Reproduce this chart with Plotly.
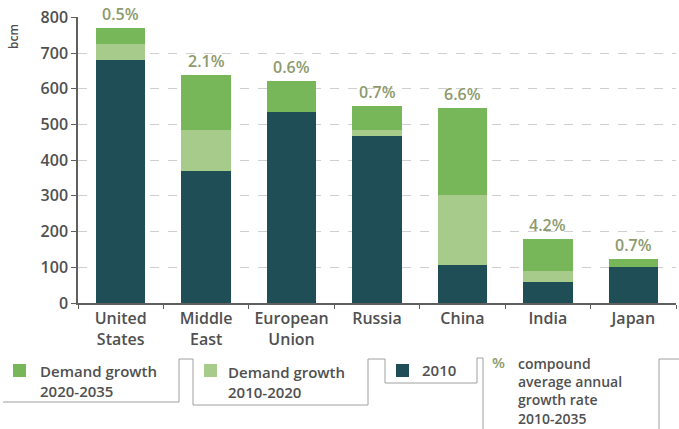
import plotly.graph_objects as go

# Natural gas demand by region (bcm)
regions = ["United<br>States", "Middle<br>East", "European<br>Union", "Russia", "China", "India", "Japan"]
base_2010 = [680, 370, 535, 467, 106, 59, 100]
growth_2010_2020 = [45, 115, 0, 17, 196, 31, 0]
growth_2020_2035 = [45, 153, 86, 67, 243, 89, 23]
cagr_labels = ["0.5%", "2.1%", "0.6%", "0.7%", "6.6%", "4.2%", "0.7%"]
y_ticks = [0, 100, 200, 300, 400, 500, 600, 700, 800]

DARK = "#1f4e56"
LIGHT = "#a6cb8b"
GREEN = "#77b75a"
PCT = "#8d9a6c"
TXT = "#505050"
FONT = "Open Sans"

W, H = 679, 429
L, R, T, B = 78, 3, 17, 126

fig = go.Figure()
for name, vals, col in [("2010", base_2010, DARK),
                        ("Demand growth 2010-2020", growth_2010_2020, LIGHT),
                        ("Demand growth 2020-2035", growth_2020_2035, GREEN)]:
    fig.add_trace(go.Bar(x=regions, y=vals, name=name, marker_color=col,
                         marker_line_width=0, width=0.58, showlegend=False))

totals = [a + b + c for a, b, c in zip(base_2010, growth_2010_2020, growth_2020_2035)]
for reg, tot, lab in zip(regions, totals, cagr_labels):
    fig.add_annotation(x=reg, y=tot, text=lab, showarrow=False, yanchor="bottom",
                       yshift=1, font=dict(family=FONT, size=16, color=PCT, weight=600))

# pixel -> paper helpers for the hand-laid legend
pw, ph = W - L - R, H - T - B
def px(x):
    return (x - L) / pw
def py(y):
    return (H - B - y) / ph

segs = [(3, 402, 179, 402), (179, 402, 179, 359), (179, 359, 193, 359),
        (193, 359, 193, 405), (193, 405, 368, 405), (368, 405, 368, 359),
        (368, 359, 385, 359), (385, 359, 385, 383), (385, 383, 477, 383),
        (477, 383, 477, 358), (477, 358, 483, 358), (483, 358, 483, 429),
        (659, 429, 659, 359), (659, 359, 679, 359)]
shapes = []
for x0, y0, x1, y1 in segs:
    shapes.append(dict(type="line", xref="paper", yref="paper",
                       x0=px(x0), y0=py(y0), x1=px(x1), y1=py(y1),
                       line=dict(color="#a0a0a0", width=1)))
for x0, col in [(13, GREEN), (204, LIGHT), (396, DARK)]:
    shapes.append(dict(type="rect", xref="paper", yref="paper",
                       x0=px(x0), x1=px(x0 + 13), y0=py(364), y1=py(377),
                       fillcolor=col, line_width=0))

# legend texts: (left x, y, anchor, text, colour, size)
legend_texts = [
    (38, 359, "top", "Demand growth<br>2020-2035", TXT, 15),
    (226, 360, "top", "Demand growth<br>2010-2020", TXT, 15),
    (420, 370, "middle", "2010", TXT, 15),
    (490, 362, "middle", "%", PCT, 15),
    (516, 352, "top", "compound<br>average annual<br>growth rate<br>2010-2035", TXT, 14),
]
for x, y, ya, t, c, s in legend_texts:
    fig.add_annotation(xref="paper", yref="paper", x=px(x), y=py(y), text=t,
                       showarrow=False, xanchor="left", yanchor=ya, align="left",
                       font=dict(family=FONT, size=s, color=c, weight=600))

fig.add_annotation(xref="paper", yref="paper", x=px(14), y=py(37), text="bcm",
                   showarrow=False, textangle=-90, xanchor="center", yanchor="middle",
                   font=dict(family=FONT, size=12, color=TXT, weight=600))

fig.update_layout(
    width=W, height=H, margin=dict(l=L, r=R, t=T, b=B),
    paper_bgcolor="white", plot_bgcolor="white",
    barmode="stack", bargap=0.42, shapes=shapes,
    font=dict(family=FONT, color=TXT),
)
fig.update_xaxes(showline=True, linecolor="#606060", linewidth=1.5,
                 ticks="outside", tickson="boundaries", ticklen=4, tickcolor="#606060",
                 tickfont=dict(family=FONT, size=16, color=TXT, weight=600))
fig.update_yaxes(range=[0, 801], tickvals=y_ticks, showline=True, linecolor="#606060",
                 linewidth=1.5, ticks="outside", ticklen=5, tickcolor="#606060",
                 showgrid=True, gridcolor="#cfcfcf", griddash="dash", zeroline=False,
                 tickfont=dict(family=FONT, size=16, color=TXT, weight=600))

fig.write_html("out.html")
